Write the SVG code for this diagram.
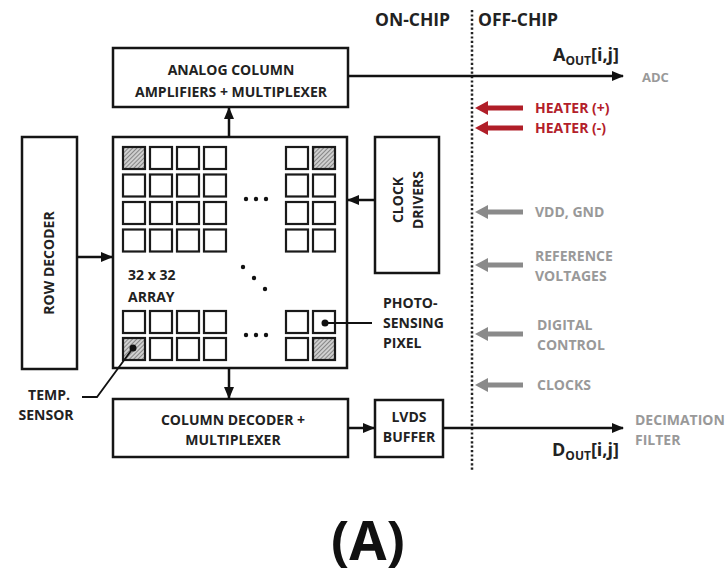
<svg xmlns="http://www.w3.org/2000/svg" width="727" height="581" viewBox="0 0 727 581">
<style>
.box{fill:#fff;stroke:#151515;stroke-width:2.5}
.cell{fill:#fff;stroke:#1a1a1a;stroke-width:2.2}
.hcell{fill:url(#hatch);stroke:#1a1a1a;stroke-width:2.2}
.t{font-family:"Open Sans","Liberation Sans",sans-serif;font-weight:bold;font-size:14px;fill:#222;text-anchor:middle}
.tl{font-family:"Open Sans","Liberation Sans",sans-serif;font-weight:bold;font-size:14px;fill:#222}
.g{font-family:"Open Sans","Liberation Sans",sans-serif;font-weight:bold;font-size:14px;fill:#999}
.r{font-family:"Open Sans","Liberation Sans",sans-serif;font-weight:bold;font-size:14px;fill:#b3202a}
.big{font-family:"Open Sans","Liberation Sans",sans-serif;font-weight:bold;font-size:17.5px;fill:#222}
.wire{stroke:#111;stroke-width:2.5;fill:none}
.thin{stroke:#111;stroke-width:1.8;fill:none}
.garr{stroke:#8a8a8a;stroke-width:5;fill:none}
.rarr{stroke:#b01e28;stroke-width:5;fill:none}
.dot{fill:#111}
</style>
<defs>
<pattern id="hatch" width="3" height="3" patternUnits="userSpaceOnUse" patternTransform="rotate(45)">
<rect width="3" height="3" fill="#cfcfcf"/>
<line x1="0" y1="0" x2="0" y2="3" stroke="#555" stroke-width="1.2"/>
</pattern>
<marker id="ah" markerUnits="userSpaceOnUse" markerWidth="12" markerHeight="12" viewBox="0 0 12 12" refX="11" refY="6" orient="auto">
<path d="M0,1 L12,6 L0,11 z" fill="#111"/>
</marker>
<marker id="gh" markerUnits="userSpaceOnUse" markerWidth="14" markerHeight="16" viewBox="0 0 14 16" refX="1" refY="8" orient="auto">
<path d="M0,1 L13,8 L0,15 z" fill="#8a8a8a"/>
</marker>
<marker id="rh" markerUnits="userSpaceOnUse" markerWidth="14" markerHeight="16" viewBox="0 0 14 16" refX="1" refY="8" orient="auto">
<path d="M0,1 L13,8 L0,15 z" fill="#b01e28"/>
</marker>
</defs>
<rect width="727" height="581" fill="#fff"/>

<text class="big" x="375" y="26">ON-CHIP</text>
<text class="big" x="478" y="26">OFF-CHIP</text>
<line x1="472" y1="10" x2="472" y2="470" stroke="#222" stroke-width="2.5" stroke-dasharray="2.2 2.2"/>

<g id="analog">
<rect class="box" x="113" y="48" width="235" height="59"/>
<text class="t" x="231" y="75">ANALOG COLUMN</text>
<text class="t" x="231" y="97">AMPLIFIERS + MULTIPLEXER</text>
</g>

<g id="row-decoder">
<rect class="box" x="22" y="137" width="55" height="232"/>
<text class="t" transform="translate(49,263) rotate(-90)" x="0" y="5">ROW DECODER</text>
</g>

<g id="clock-drivers">
<rect class="box" x="375" y="137" width="64" height="136"/>
<text class="t" transform="translate(407,200) rotate(-90)" x="0" y="-4">CLOCK</text>
<text class="t" transform="translate(407,200) rotate(-90)" x="0" y="16">DRIVERS</text>
</g>

<g id="array">
<rect class="box" x="113" y="137" width="234" height="231"/>
<g>
<rect class="hcell" x="123" y="147" width="22" height="22"/>
<rect class="cell" x="150" y="147" width="22" height="22"/>
<rect class="cell" x="177" y="147" width="22" height="22"/>
<rect class="cell" x="204" y="147" width="22" height="22"/>
<rect class="cell" x="123" y="174.5" width="22" height="22"/>
<rect class="cell" x="150" y="174.5" width="22" height="22"/>
<rect class="cell" x="177" y="174.5" width="22" height="22"/>
<rect class="cell" x="204" y="174.5" width="22" height="22"/>
<rect class="cell" x="123" y="202" width="22" height="22"/>
<rect class="cell" x="150" y="202" width="22" height="22"/>
<rect class="cell" x="177" y="202" width="22" height="22"/>
<rect class="cell" x="204" y="202" width="22" height="22"/>
<rect class="cell" x="123" y="229.5" width="22" height="22"/>
<rect class="cell" x="150" y="229.5" width="22" height="22"/>
<rect class="cell" x="177" y="229.5" width="22" height="22"/>
<rect class="cell" x="204" y="229.5" width="22" height="22"/>
<rect class="cell" x="286" y="147" width="22" height="22"/>
<rect class="hcell" x="313" y="147" width="22" height="22"/>
<rect class="cell" x="286" y="174.5" width="22" height="22"/>
<rect class="cell" x="313" y="174.5" width="22" height="22"/>
<rect class="cell" x="286" y="202" width="22" height="22"/>
<rect class="cell" x="313" y="202" width="22" height="22"/>
<rect class="cell" x="286" y="229.5" width="22" height="22"/>
<rect class="cell" x="313" y="229.5" width="22" height="22"/>
<rect class="cell" x="123" y="311" width="22" height="22"/>
<rect class="cell" x="150" y="311" width="22" height="22"/>
<rect class="cell" x="177" y="311" width="22" height="22"/>
<rect class="cell" x="204" y="311" width="22" height="22"/>
<rect class="hcell" x="123" y="338" width="22" height="22"/>
<rect class="cell" x="150" y="338" width="22" height="22"/>
<rect class="cell" x="177" y="338" width="22" height="22"/>
<rect class="cell" x="204" y="338" width="22" height="22"/>
<rect class="cell" x="286" y="311" width="22" height="22"/>
<rect class="cell" x="313" y="311" width="22" height="22"/>
<rect class="cell" x="286" y="338" width="22" height="22"/>
<rect class="hcell" x="313" y="338" width="22" height="22"/>
</g>
<circle class="dot" cx="246" cy="199" r="2.2"/>
<circle class="dot" cx="256" cy="199" r="2.2"/>
<circle class="dot" cx="266" cy="199" r="2.2"/>
<circle class="dot" cx="246" cy="335" r="2.2"/>
<circle class="dot" cx="256" cy="335" r="2.2"/>
<circle class="dot" cx="266" cy="335" r="2.2"/>
<circle class="dot" cx="243" cy="267" r="2.2"/>
<circle class="dot" cx="254" cy="278" r="2.2"/>
<circle class="dot" cx="265" cy="289" r="2.2"/>
<text class="tl" x="128" y="280">32 x 32</text>
<text class="tl" x="128" y="302">ARRAY</text>
</g>

<g id="column-decoder">
<rect class="box" x="113" y="399" width="235" height="58"/>
<text class="t" x="233" y="425">COLUMN DECODER +</text>
<text class="t" x="233" y="445">MULTIPLEXER</text>
</g>

<g id="lvds">
<rect class="box" x="375" y="400" width="68" height="57"/>
<text class="t" x="409" y="422">LVDS</text>
<text class="t" x="409" y="442">BUFFER</text>
</g>

<g id="labels">
<text class="tl" x="383" y="308">PHOTO-</text>
<text class="tl" x="383" y="328">SENSING</text>
<text class="tl" x="383" y="348">PIXEL</text>
<text class="t" x="49" y="400">TEMP.</text>
<text class="t" x="46" y="420">SENSOR</text>
<text class="big" x="553" y="61" style="font-size:18px">A<tspan style="font-size:12px" dy="4">OUT</tspan><tspan dy="-4">[i,j]</tspan></text>
<text class="big" x="552" y="456" style="font-size:18px">D<tspan style="font-size:12px" dy="4">OUT</tspan><tspan dy="-4">[i,j]</tspan></text>
<text class="g" x="642" y="82" style="font-size:13px">ADC</text>
<text class="g" x="635" y="425">DECIMATION</text>
<text class="g" x="635" y="445">FILTER</text>
<text class="r" x="535" y="113">HEATER (+)</text>
<text class="r" x="535" y="133">HEATER (-)</text>
<text class="g" x="535" y="217">VDD, GND</text>
<text class="g" x="535" y="261">REFERENCE</text>
<text class="g" x="535" y="281">VOLTAGES</text>
<text class="g" x="537" y="330">DIGITAL</text>
<text class="g" x="537" y="350">CONTROL</text>
<text class="g" x="537" y="390">CLOCKS</text>
<text class="big" x="368" y="560" text-anchor="middle" style="font-size:54px;fill:#111">(A)</text>
</g>

<g id="connectors">
<line class="wire" x1="348" y1="76" x2="623" y2="76" marker-end="url(#ah)"/>
<line class="wire" x1="443" y1="428" x2="623" y2="428" marker-end="url(#ah)"/>
<line class="wire" x1="229" y1="137" x2="229" y2="108" marker-end="url(#ah)"/>
<line class="wire" x1="229" y1="368" x2="229" y2="398" marker-end="url(#ah)"/>
<line class="wire" x1="77" y1="257" x2="112" y2="257" marker-end="url(#ah)"/>
<line class="wire" x1="375" y1="200" x2="348" y2="200" marker-end="url(#ah)"/>
<line class="wire" x1="348" y1="428" x2="374" y2="428" marker-end="url(#ah)"/>
<circle class="dot" cx="325" cy="323" r="3.5"/>
<line class="thin" x1="325" y1="323" x2="372" y2="323"/>
<circle class="dot" cx="133" cy="348" r="3.5"/>
<polyline class="thin" points="133,348 97,397 82,397"/>
<line class="rarr" x1="523" y1="108" x2="487" y2="108" marker-end="url(#rh)"/>
<line class="rarr" x1="523" y1="128" x2="487" y2="128" marker-end="url(#rh)"/>
<line class="garr" x1="523" y1="212" x2="487" y2="212" marker-end="url(#gh)"/>
<line class="garr" x1="523" y1="265" x2="487" y2="265" marker-end="url(#gh)"/>
<line class="garr" x1="523" y1="334" x2="487" y2="334" marker-end="url(#gh)"/>
<line class="garr" x1="523" y1="385" x2="487" y2="385" marker-end="url(#gh)"/>
</g>
</svg>
